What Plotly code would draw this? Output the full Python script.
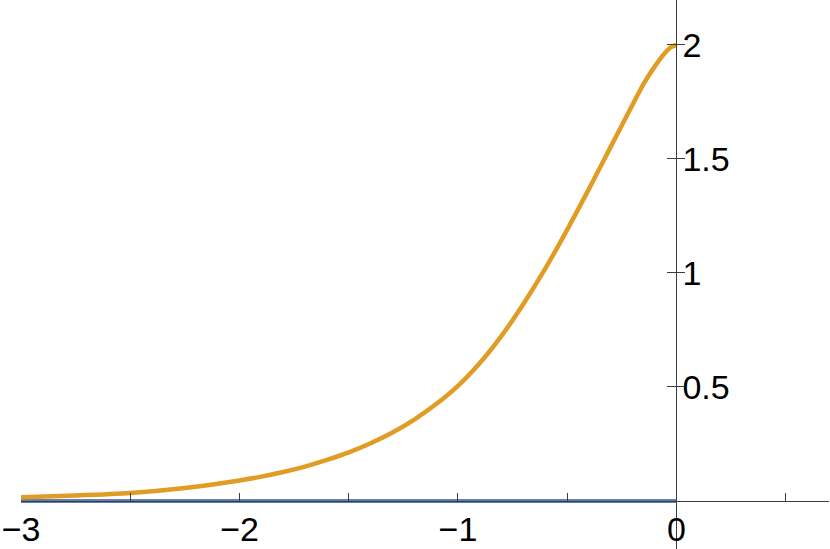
import plotly.graph_objects as go

# Orange curve samples
curve_x = [-3.0, -2.75, -2.5, -2.25, -2.0, -1.9, -1.8, -1.7, -1.6, -1.5, -1.4, -1.3,
           -1.2, -1.1, -1.0, -0.9, -0.8, -0.7, -0.6, -0.5, -0.4, -0.3, -0.2,
           -0.15, -0.1, -0.05, -0.025, 0.0]
curve_y = [0.016, 0.024, 0.035, 0.057, 0.090, 0.107, 0.127, 0.151, 0.180, 0.213, 0.253, 0.300,
           0.357, 0.425, 0.505, 0.605, 0.725, 0.865, 1.020, 1.190, 1.370, 1.555, 1.740,
           1.830, 1.905, 1.968, 1.990, 2.0]

# Blue series lying on the x axis
base_x = [-3.0, 0.0]
base_y = [0.0, 0.0]

x_tickvals = [-3, -2.5, -2, -1.5, -1, -0.5, 0, 0.5]
x_ticktext = ["−3", "", "−2", "", "−1", "", "0", ""]
y_tickvals = [0.5, 1, 1.5, 2]
y_ticktext = ["0.5", "1", "1.5", "2"]

x_range = [-3.0, 0.698]
y_range = [-0.2105, 2.197]

W, H = 830, 549
ml, mr, mt, mb = 21, 1, 0, 0

ypos = (0 - x_range[0]) / (x_range[1] - x_range[0])
xpos = (0 - y_range[0]) / (y_range[1] - y_range[0])

font = dict(family="Liberation Sans, Arial, sans-serif", size=34, color="black")
axis_col = "#3c3c3c"

fig = go.Figure()
fig.add_trace(go.Scatter(x=base_x, y=base_y, mode="lines",
                         line=dict(color="#5E81B5", width=4), hoverinfo="skip"))
fig.add_trace(go.Scatter(x=curve_x, y=curve_y, mode="lines",
                         line=dict(color="#E19C24", width=4.5, shape="spline", smoothing=0.6),
                         hoverinfo="skip"))
fig.add_trace(go.Scatter(x=[None], y=[None], yaxis="y2", showlegend=False, hoverinfo="skip"))

fig.update_layout(
    width=W, height=H,
    margin=dict(l=ml, r=mr, t=mt, b=mb, pad=0, autoexpand=False),
    paper_bgcolor="white", plot_bgcolor="white",
    showlegend=False,
    xaxis=dict(range=x_range, anchor="free", position=xpos, showgrid=False, zeroline=False,
               showline=True, linecolor=axis_col, linewidth=1.2, automargin=False,
               tickmode="array", tickvals=x_tickvals, ticktext=x_ticktext,
               ticks="inside", ticklen=8, tickwidth=1.2, tickcolor=axis_col,
               ticklabelstandoff=-2, tickfont=font),
    yaxis=dict(range=y_range, anchor="free", position=ypos, side="right",
               showgrid=False, zeroline=False, automargin=False,
               showline=True, linecolor=axis_col, linewidth=1.2,
               tickmode="array", tickvals=y_tickvals, ticktext=y_ticktext,
               ticks="inside", ticklen=9, tickwidth=1.2, tickcolor=axis_col,
               ticklabelstandoff=-2, tickfont=font),
    yaxis2=dict(range=y_range, overlaying="y", anchor="free", position=ypos, side="right",
                showgrid=False, zeroline=False, showline=False, automargin=False,
                tickmode="array", tickvals=y_tickvals,
                ticks="outside", ticklen=8, tickwidth=1.2, tickcolor=axis_col,
                showticklabels=False),
)

fig.write_html("out.html", config={"displayModeBar": False},
               post_script="document.body.style.margin='0px';document.body.style.overflow='hidden';")
